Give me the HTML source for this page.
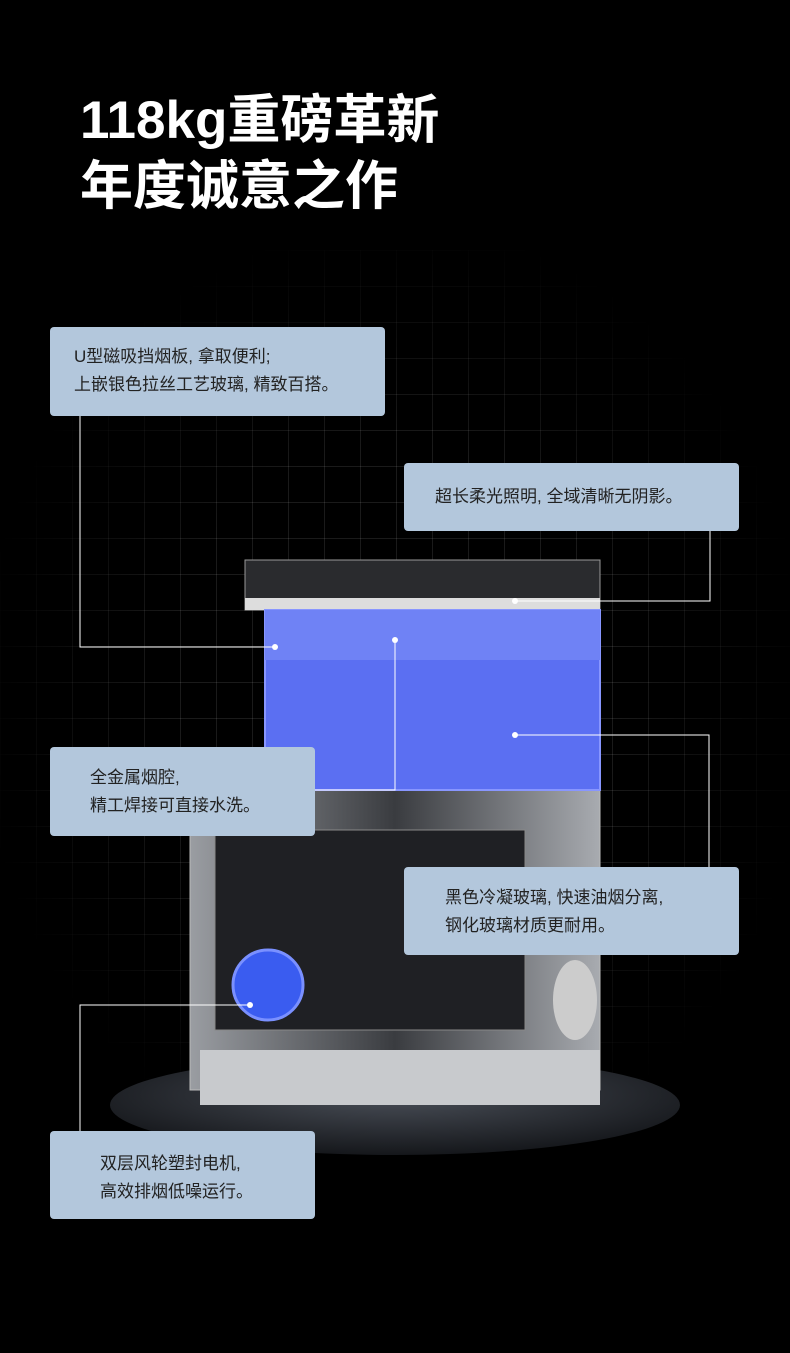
<!DOCTYPE html>
<html><head><meta charset="utf-8"><style>
body{margin:0;width:790px;height:1353px;background:#000;overflow:hidden;position:relative;font-family:"Liberation Sans","Noto Sans CJK SC",sans-serif}
.grid{position:absolute;left:0;top:250px;width:790px;height:900px;background-image:linear-gradient(rgba(255,255,255,.1) 1px,transparent 1px),linear-gradient(90deg,rgba(255,255,255,.1) 1px,transparent 1px);background-size:36px 36px;-webkit-mask-image:radial-gradient(ellipse at center,#000 40%,transparent 75%)}
h1{position:absolute;left:80px;top:88px;margin:0;color:#fff;font-size:53px;line-height:66px;font-weight:bold;letter-spacing:0}
.b{position:absolute;background:#b3c7dc;border-radius:4px;color:#222;font-size:17px;line-height:28px;box-sizing:border-box}
</style></head><body>
<div class="grid"></div>
<h1>118kg重磅革新<br>年度诚意之作</h1>
<svg width="790" height="1353" style="position:absolute;left:0;top:0">
<defs><radialGradient id="pl" cx="50%" cy="40%" r="60%"><stop offset="0" stop-color="#4a4f58"/><stop offset="1" stop-color="#15171b"/></radialGradient>
<linearGradient id="bd" x1="0" x2="1"><stop offset="0" stop-color="#9a9da2"/><stop offset=".5" stop-color="#3a3c40"/><stop offset="1" stop-color="#a8abb0"/></linearGradient></defs>
<ellipse cx="395" cy="1105" rx="285" ry="50" fill="url(#pl)"/>
<rect x="190" y="790" width="410" height="300" fill="url(#bd)" stroke="#bbb"/>
<rect x="215" y="830" width="310" height="200" fill="#1f2024" stroke="#888"/>
<rect x="200" y="1050" width="400" height="55" fill="#c8cacd"/>
<circle cx="268" cy="985" r="35" fill="#3a5cf0" stroke="#7a90ff" stroke-width="3"/>
<ellipse cx="575" cy="1000" rx="22" ry="40" fill="#ccc"/>
<rect x="245" y="560" width="355" height="50" fill="#2a2b2e" stroke="#999"/>
<rect x="245" y="598" width="355" height="12" fill="#ddd"/>
<rect x="265" y="610" width="335" height="180" fill="#5b6ff2" stroke="#8896ff" stroke-width="2"/>
<rect x="265" y="610" width="335" height="50" fill="#6f82f5"/>
<g stroke="#fff" stroke-width="1" fill="none">
<polyline points="80,416 80,647 275,647"/>
<polyline points="710,531 710,601 515,601"/>
<polyline points="395,640 395,790 315,790"/>
<polyline points="515,735 709,735 709,867"/>
<polyline points="80,1131 80,1005 250,1005"/>
</g>
<g fill="#fff"><circle cx="275" cy="647" r="3"/><circle cx="515" cy="601" r="3"/><circle cx="395" cy="640" r="3"/><circle cx="515" cy="735" r="3"/><circle cx="250" cy="1005" r="3"/></g>
</svg>
<div class="b" style="left:50px;top:327px;width:335px;height:89px;padding:16px 0 0 24px">U型磁吸挡烟板, 拿取便利;<br>上嵌银色拉丝工艺玻璃, 精致百搭。</div>
<div class="b" style="left:404px;top:463px;width:335px;height:68px;padding:20px 0 0 31px">超长柔光照明, 全域清晰无阴影。</div>
<div class="b" style="left:50px;top:747px;width:265px;height:89px;padding:17px 0 0 40px">全金属烟腔,<br>精工焊接可直接水洗。</div>
<div class="b" style="left:404px;top:867px;width:335px;height:88px;padding:17px 0 0 41px">黑色冷凝玻璃, 快速油烟分离,<br>钢化玻璃材质更耐用。</div>
<div class="b" style="left:50px;top:1131px;width:265px;height:88px;padding:19px 0 0 50px">双层风轮塑封电机,<br>高效排烟低噪运行。</div>
</body></html>
